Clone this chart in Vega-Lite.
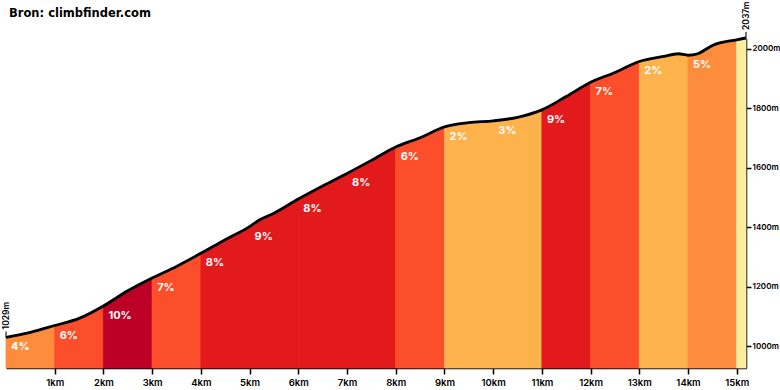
{
  "$schema": "https://vega.github.io/schema/vega-lite/v6.json",
  "width": 740,
  "height": 330,
  "autosize": {"type": "none"},
  "padding": {"left": 6, "top": 38, "right": 34, "bottom": 22},
  "background": "white",
  "config": {"view": {"stroke": null}},
  "title": {"text": "Bron: climbfinder.com", "anchor": "start", "frame": "group", "offset": -18, "dx": 3, "font": "DejaVu Sans", "fontSize": 11.5, "fontWeight": "bold", "color": "#000"},
  "datasets": {
    "profile": [
      {"km": 0, "elev": 1029, "seg": 0}, {"km": 0.5, "elev": 1046, "seg": 0}, {"km": 1, "elev": 1069, "seg": 0},
      {"km": 1, "elev": 1069, "seg": 1}, {"km": 1.5, "elev": 1093, "seg": 1}, {"km": 2, "elev": 1135, "seg": 1},
      {"km": 2, "elev": 1135, "seg": 2}, {"km": 2.5, "elev": 1186, "seg": 2}, {"km": 3, "elev": 1229, "seg": 2},
      {"km": 3, "elev": 1229, "seg": 3}, {"km": 3.5, "elev": 1268, "seg": 3}, {"km": 4, "elev": 1312, "seg": 3},
      {"km": 4, "elev": 1312, "seg": 4}, {"km": 4.5, "elev": 1358, "seg": 4}, {"km": 5, "elev": 1402, "seg": 4},
      {"km": 5, "elev": 1402, "seg": 5}, {"km": 5.2, "elev": 1424, "seg": 5}, {"km": 5.5, "elev": 1447, "seg": 5}, {"km": 6, "elev": 1495, "seg": 5},
      {"km": 6, "elev": 1495, "seg": 6}, {"km": 6.5, "elev": 1539, "seg": 6}, {"km": 7, "elev": 1581, "seg": 6},
      {"km": 7, "elev": 1581, "seg": 7}, {"km": 7.5, "elev": 1625, "seg": 7}, {"km": 8, "elev": 1670, "seg": 7},
      {"km": 8, "elev": 1670, "seg": 8}, {"km": 8.5, "elev": 1701, "seg": 8}, {"km": 9, "elev": 1738, "seg": 8},
      {"km": 9, "elev": 1738, "seg": 9}, {"km": 9.5, "elev": 1752, "seg": 9}, {"km": 10, "elev": 1758, "seg": 9},
      {"km": 10, "elev": 1758, "seg": 10}, {"km": 10.5, "elev": 1770, "seg": 10}, {"km": 11, "elev": 1795, "seg": 10},
      {"km": 11, "elev": 1795, "seg": 11}, {"km": 11.5, "elev": 1840, "seg": 11}, {"km": 12, "elev": 1888, "seg": 11},
      {"km": 12, "elev": 1888, "seg": 12}, {"km": 12.5, "elev": 1921, "seg": 12}, {"km": 13, "elev": 1958, "seg": 12},
      {"km": 13, "elev": 1958, "seg": 13}, {"km": 13.5, "elev": 1975, "seg": 13}, {"km": 13.8, "elev": 1984, "seg": 13}, {"km": 14, "elev": 1979, "seg": 13},
      {"km": 14, "elev": 1979, "seg": 14}, {"km": 14.2, "elev": 1984, "seg": 14}, {"km": 14.5, "elev": 2012, "seg": 14}, {"km": 15, "elev": 2031, "seg": 14},
      {"km": 15, "elev": 2031, "seg": 15}, {"km": 15.19, "elev": 2037, "seg": 15}
    ],
    "segments": [
      {"seg": 0, "start": 0, "elev": 1029, "grade": 4, "label": "4%"},
      {"seg": 1, "start": 1, "elev": 1069, "grade": 6, "label": "6%"},
      {"seg": 2, "start": 2, "elev": 1135, "grade": 10, "label": "10%"},
      {"seg": 3, "start": 3, "elev": 1229, "grade": 7, "label": "7%"},
      {"seg": 4, "start": 4, "elev": 1312, "grade": 8, "label": "8%"},
      {"seg": 5, "start": 5, "elev": 1402, "grade": 9, "label": "9%"},
      {"seg": 6, "start": 6, "elev": 1495, "grade": 8, "label": "8%"},
      {"seg": 7, "start": 7, "elev": 1581, "grade": 8, "label": "8%"},
      {"seg": 8, "start": 8, "elev": 1670, "grade": 6, "label": "6%"},
      {"seg": 9, "start": 9, "elev": 1738, "grade": 2, "label": "2%"},
      {"seg": 10, "start": 10, "elev": 1758, "grade": 3, "label": "3%"},
      {"seg": 11, "start": 11, "elev": 1795, "grade": 9, "label": "9%"},
      {"seg": 12, "start": 12, "elev": 1888, "grade": 7, "label": "7%"},
      {"seg": 13, "start": 13, "elev": 1958, "grade": 2, "label": "2%"},
      {"seg": 14, "start": 14, "elev": 1979, "grade": 5, "label": "5%"},
      {"seg": 15, "start": 15, "elev": 2031, "grade": 1, "label": ""}
    ],
    "ends": [
      {"km": 0, "elev": 1029, "label": "1029m"},
      {"km": 15.19, "elev": 2037, "label": "2037m"}
    ]
  },
  "layer": [
    {
      "data": {"name": "profile"},
      "transform": [{"lookup": "seg", "from": {"data": {"name": "segments"}, "key": "seg", "fields": ["grade"]}}],
      "mark": {"type": "area", "interpolate": "monotone", "opacity": 1, "strokeWidth": 0.8},
      "encoding": {
        "x": {"field": "km", "type": "quantitative", "scale": {"domain": [0, 15.19], "nice": false},
          "axis": {"values": [1,2,3,4,5,6,7,8,9,10,11,12,13,14,15], "labelExpr": "datum.value + 'km'", "title": null, "grid": false,
            "domainColor": "#000", "domainWidth": 1.5, "tickColor": "#000", "tickWidth": 1.5, "tickSize": 6,
            "labelFont": "Inter", "labelFontWeight": 600, "labelFontSize": 9.5, "labelColor": "#000", "labelPadding": 3}},
        "y": {"field": "elev", "type": "quantitative", "scale": {"domain": [926, 2037], "nice": false, "zero": false},
          "axis": {"orient": "right", "values": [1000, 1200, 1400, 1600, 1800, 2000], "labelExpr": "datum.value + 'm'", "title": null, "grid": false,
            "domainColor": "#000", "domainWidth": 1.5, "tickColor": "#000", "tickWidth": 1.5, "tickSize": 5,
            "labelFont": "Inter", "labelFontWeight": 600, "labelFontSize": 8, "labelColor": "#000", "labelPadding": 1}},
        "y2": {"datum": 926},
        "detail": {"field": "seg", "type": "nominal"},
        "color": {"field": "grade", "type": "quantitative", "legend": null,
          "scale": {"type": "threshold", "domain": [2, 4, 6, 8, 10], "range": ["#ffeda0", "#feb24c", "#fd8d3c", "#fc4e2a", "#e31a1c", "#bd0026"]}},
        "stroke": {"field": "grade", "type": "quantitative", "legend": null,
          "scale": {"type": "threshold", "domain": [2, 4, 6, 8, 10], "range": ["#ffeda0", "#feb24c", "#fd8d3c", "#fc4e2a", "#e31a1c", "#bd0026"]}}
      }
    },
    {
      "data": {"name": "profile"},
      "mark": {"type": "line", "interpolate": "monotone", "color": "#000", "strokeWidth": 2.8},
      "encoding": {
        "x": {"field": "km", "type": "quantitative"},
        "y": {"field": "elev", "type": "quantitative"},
        "order": {"field": "km"}
      }
    },
    {
      "data": {"name": "segments"},
      "mark": {"type": "text", "align": "left", "baseline": "middle", "dx": 5, "dy": 10, "color": "#fff", "font": "Inter", "fontWeight": "bold", "fontSize": 11},
      "encoding": {
        "x": {"field": "start", "type": "quantitative"},
        "y": {"field": "elev", "type": "quantitative"},
        "text": {"field": "label"}
      }
    },
    {
      "data": {"name": "ends"},
      "mark": {"type": "tick", "orient": "vertical", "size": 6, "thickness": 1.5, "color": "#000", "yOffset": -3},
      "encoding": {
        "x": {"field": "km", "type": "quantitative"},
        "y": {"field": "elev", "type": "quantitative"}
      }
    },
    {
      "data": {"name": "ends"},
      "mark": {"type": "text", "angle": 270, "align": "left", "baseline": "middle", "yOffset": -8, "color": "#000", "font": "Inter", "fontWeight": 600, "fontSize": 8.5},
      "encoding": {
        "x": {"field": "km", "type": "quantitative"},
        "y": {"field": "elev", "type": "quantitative"},
        "text": {"field": "label"}
      }
    }
  ]
}
